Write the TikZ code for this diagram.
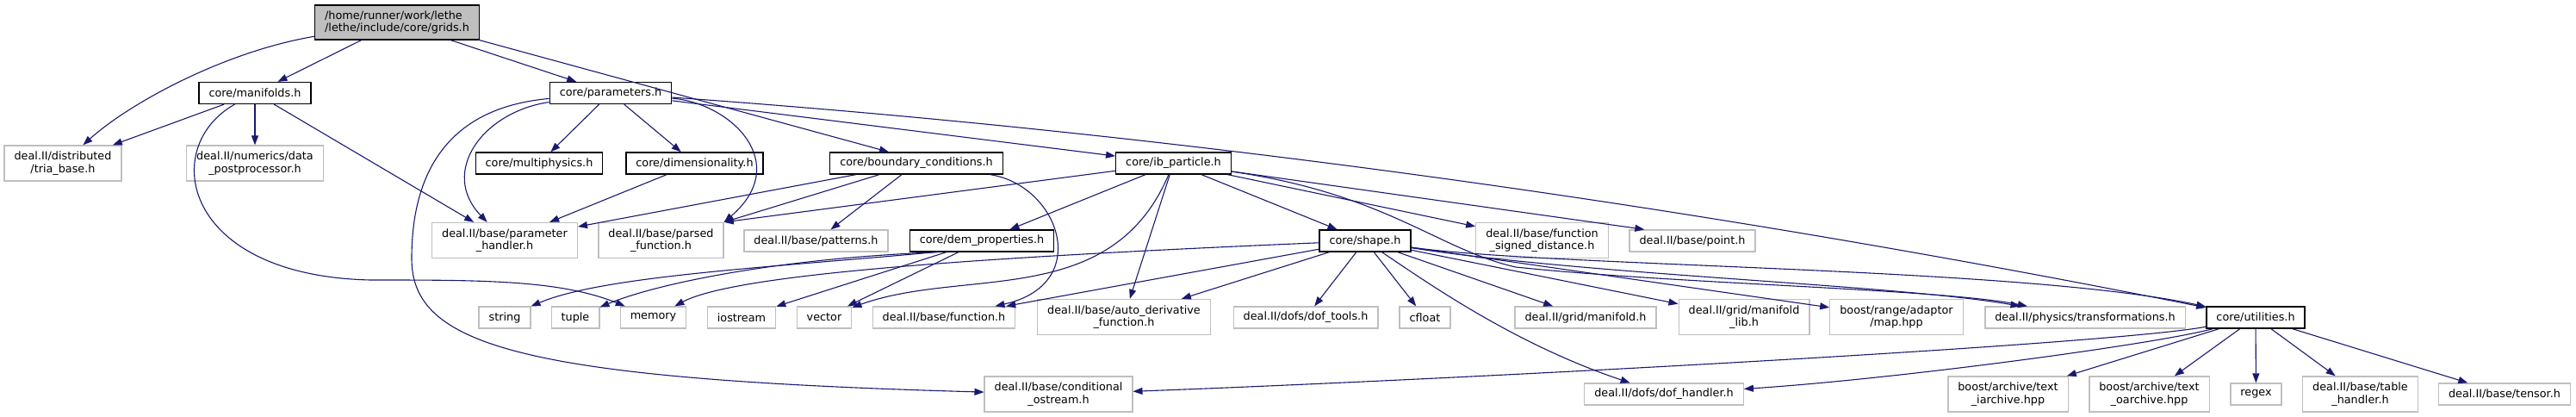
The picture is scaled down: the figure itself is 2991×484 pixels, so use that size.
\documentclass[tikz,border=0pt]{standalone}
\usepackage{fontspec}
\newfontfamily\doxfont{DejaVu Sans}
\usetikzlibrary{arrows.meta}
\definecolor{inclblue}{HTML}{191970}
\definecolor{boxgray}{HTML}{BFBFBF}

\begin{document}
\begin{tikzpicture}[x=1pt, y=-1pt,
    hdr/.style={draw=boxgray, line width=1.3pt, fill=white, inner xsep=11.5pt, inner ysep=2pt,
                minimum height=25pt, align=center, font=\doxfont\fontsize{12.8}{14.5}\selectfont},
    hdr2/.style={hdr, minimum height=41pt},
    corehdr/.style={hdr, draw=black},
    roothdr/.style={hdr2, draw=black, fill=boxgray, minimum height=40pt, align=left},
    incl/.style={draw=inclblue, line width=1.1pt, -{Triangle[length=11pt,width=8pt]}}
]
                % 1. A kép kerete (pixelben, y lefelé nő)
                \useasboundingbox (0,0) rectangle (2991,484);

                % 2. A gyökér és a core/ fejlécek
                \node[roothdr] (grids) at (461,26) {/home/runner/work/lethe\\/lethe/include/core/grids.h};
                \node[corehdr] (manifolds) at (296,108) {core/manifolds.h};
                \node[corehdr] (parameters) at (709,108) {core/parameters.h};
                \node[corehdr] (multiphys) at (626,189.5) {core/multiphysics.h};
                \node[corehdr] (dimens) at (806.5,189.5) {core/dimensionality.h};
                \node[corehdr] (boundary) at (1064,189.5) {core/boundary\_conditions.h};
                \node[corehdr] (ibpart) at (1362.5,189.5) {core/ib\_particle.h};
                \node[corehdr] (demprop) at (1140,279.5) {core/dem\_properties.h};
                \node[corehdr] (shape) at (1585,279.5) {core/shape.h};
                \node[corehdr] (utilities) at (2619,368.5) {core/utilities.h};

                % 3. Külső fejlécek (szürke keret)
                \node[hdr2] (triabase) at (73,189.5) {deal.II/distributed\\/tria\_base.h};
                \node[hdr2] (datapost) at (296,189.5) {deal.II/numerics/data\\\_postprocessor.h};
                \node[hdr2] (paramhandler) at (586,279) {deal.II/base/parameter\\\_handler.h};
                \node[hdr2] (parsedfn) at (767.5,279) {deal.II/base/parsed\\\_function.h};
                \node[hdr] (patterns) at (947.5,279.5) {deal.II/base/patterns.h};
                \node[hdr2] (signeddist) at (1790.5,279) {deal.II/base/function\\\_signed\_distance.h};
                \node[hdr] (point) at (1965,279.5) {deal.II/base/point.h};
                \node[hdr] (string) at (586,368.5) {string};
                \node[hdr] (tuple) at (668,368.5) {tuple};
                \node[hdr] (memory) at (758.5,368.5) {memory};
                \node[hdr] (iostream) at (861,368.5) {iostream};
                \node[hdr] (vector) at (957,368.5) {vector};
                \node[hdr] (function) at (1096,368.5) {deal.II/base/function.h};
                \node[hdr2] (autoderiv) at (1305,368) {deal.II/base/auto\_derivative\\\_function.h};
                \node[hdr] (doftools) at (1516,368.5) {deal.II/dofs/dof\_tools.h};
                \node[hdr] (cfloat) at (1654.5,368.5) {cfloat};
                \node[hdr] (gridmanifold) at (1841,368.5) {deal.II/grid/manifold.h};
                \node[hdr2] (manifoldlib) at (2025,368) {deal.II/grid/manifold\\\_lib.h};
                \node[hdr2] (boostmap) at (2202,368) {boost/range/adaptor\\/map.hpp};
                \node[hdr] (transf) at (2421,368.5) {deal.II/physics/transformations.h};
                \node[hdr2] (condostream) at (1229,457.5) {deal.II/base/conditional\\\_ostream.h};
                \node[hdr] (dofhandler) at (1932,457.5) {deal.II/dofs/dof\_handler.h};
                \node[hdr2] (iarchive) at (2331.5,457.5) {boost/archive/text\\\_iarchive.hpp};
                \node[hdr2] (oarchive) at (2495.5,457.5) {boost/archive/text\\\_oarchive.hpp};
                \node[hdr] (regex) at (2619.5,457.5) {regex};
                \node[hdr2] (tablehandler) at (2740.5,457.5) {deal.II/base/table\\\_handler.h};
                \node[hdr] (tensor) at (2908,457.5) {deal.II/base/tensor.h};

                % 4. Egyenes include-nyilak
                \foreach \a/\b in {grids/manifolds, grids/parameters, manifolds/triabase, manifolds/datapost,
                                   manifolds/paramhandler, parameters/multiphys, parameters/dimens, parameters/ibpart,
                                   dimens/paramhandler, boundary/paramhandler, boundary/patterns, ibpart/demprop,
                                   ibpart/autoderiv, ibpart/shape, ibpart/signeddist, shape/function, shape/autoderiv,
                                   shape/doftools, shape/cfloat, shape/gridmanifold, shape/manifoldlib, shape/boostmap,
                                   demprop/iostream, demprop/vector, utilities/iarchive, utilities/oarchive,
                                   utilities/regex, utilities/tablehandler, utilities/tensor} {
                    \draw[incl] (\a) -- (\b);
                }
                \draw[incl] (grids.south east) -- ([xshift=-32pt]boundary.north);
                \draw[incl] (ibpart) -- ([xshift=18pt]point.north west);
                \draw[incl] (boundary) -- (parsedfn.north east);
                \draw[incl] (ibpart) -- (parsedfn.north east);

                % 5. Ívelt include-nyilak
                \draw[incl] (grids) .. controls (260,60) and (150,120) .. (triabase);
                \draw[incl] (manifolds) .. controls (185,170) and (210,320) .. (430,325)
                                        .. controls (560,325) and (650,325) .. (memory);
                \draw[incl] (parameters) .. controls (560,130) and (510,200) .. (paramhandler);
                \draw[incl] (parameters) .. controls (520,125) and (478,200) .. (478,300)
                                         .. controls (478,400) and (600,440) .. (condostream);
                \draw[incl] (parameters) .. controls (850,120) and (920,190) .. (parsedfn.north east);
                \draw[incl] (parameters) .. controls (1300,150) and (1900,225) .. (utilities);
                \draw[incl] (boundary) .. controls (1230,215) and (1270,330) .. (function);
                \draw[incl] (ibpart) .. controls (1290,360) and (1120,310) .. (vector);
                \draw[incl] (ibpart) .. controls (1610,225) and (1670,290) .. (1760,310)
                                     .. controls (1950,330) and (2250,335) .. (transf);
                \draw[incl] ([xshift=30pt]demprop.south west) .. controls (900,310) and (700,320) .. (string);
                \draw[incl] ([xshift=34pt]demprop.south west) .. controls (900,300) and (760,330) .. (tuple);
                \draw[incl] (shape) .. controls (1100,300) and (850,320) .. (memory);
                \draw[incl] (shape) .. controls (1660,330) and (1760,400) .. (dofhandler);
                \draw[incl] (shape) .. controls (1850,320) and (2200,330) .. (transf);
                \draw[incl] (shape) .. controls (1800,310) and (2350,310) .. (utilities);
                \draw[incl] (utilities) .. controls (2450,400) and (1700,440) .. (condostream);
                \draw[incl] (utilities) .. controls (2500,400) and (2200,440) .. (dofhandler);
\end{tikzpicture}
\end{document}
